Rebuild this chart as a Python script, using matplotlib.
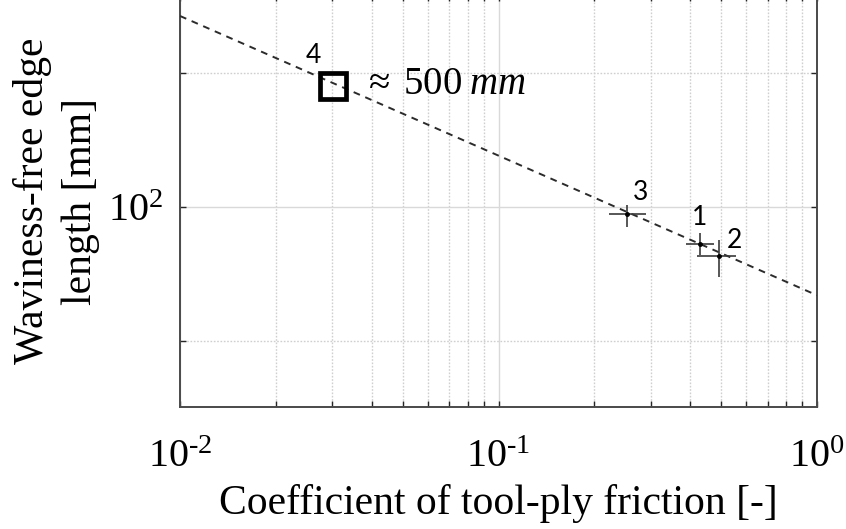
import numpy as np
import matplotlib.pyplot as plt
from matplotlib.ticker import FixedLocator, NullFormatter

plt.rcParams['font.family'] = ['Liberation Serif', 'DejaVu Serif']
plt.rcParams['mathtext.fontset'] = 'custom'
plt.rcParams['mathtext.rm'] = 'Liberation Serif'
plt.rcParams['mathtext.it'] = 'Liberation Serif:italic'

# measured friction coefficients and waviness-free edge lengths (cases 1-3)
case_ids = ['1', '2', '3']
friction = [0.4295, 0.493, 0.2535]
friction_lo = [0.388, 0.420, 0.2228]
friction_hi = [0.475, 0.557, 0.291]
edge_len = [82.6, 77.6, 96.4]
edge_lo = [78.0, 69.6, 90.2]
edge_hi = [87.4, 84.3, 101.0]

# extrapolated case 4
friction_4 = 0.0302
edge_4 = 187.0

# power-law fit  L = a * mu^b
fit_a = 63.3
fit_b = -0.314

mu = np.logspace(-2, 0, 200)
fit = fit_a * mu ** fit_b

fig = plt.figure(figsize=(8.46, 5.29), dpi=100)
ax = fig.add_axes([0.2128, 0.2306, 0.7530, 0.7788])
ax.set_xscale('log')
ax.set_yscale('log')

ax.plot(mu, fit, '--', color='#2b2b2b', lw=1.4, dashes=(3.5, 3), zorder=3)

fx = np.array(friction)
fy = np.array(edge_len)
xerr = [fx - np.array(friction_lo), np.array(friction_hi) - fx]
yerr = [fy - np.array(edge_lo), np.array(edge_hi) - fy]
ax.errorbar(fx, fy, xerr=xerr, yerr=yerr, fmt='.', color='#3a3a3a',
            ecolor='#3a3a3a', elinewidth=1.2, capsize=0, markersize=5,
            markerfacecolor='black', markeredgecolor='black', zorder=4)

ax.plot([friction_4], [edge_4], 's', markersize=19, markerfacecolor='none',
        markeredgecolor='black', markeredgewidth=3.4, zorder=5)

label_offsets = {'1': (-0.7, 18.7), '2': (10.8, 10.8), '3': (9.4, 15.8)}
for cid, x, y in zip(case_ids, friction, edge_len):
    ax.annotate(cid, (x, y), xytext=label_offsets[cid], textcoords='offset points',
                ha='center', va='center', fontsize=19, family=['Lato', 'DejaVu Sans'])
ax.annotate('4', (friction_4, edge_4), xytext=(-14.4, 22.3), textcoords='offset points',
            ha='center', va='center', fontsize=19, family=['Lato', 'DejaVu Sans'])
ax.annotate(r'$\approx\;500\;\mathit{mm}$', (friction_4, edge_4), xytext=(21.5, 1),
            textcoords='offset points', ha='left', va='center', fontsize=28)

ax.set_xlim(1e-2, 1e0)
ax.set_ylim(35.5, 299.6)

ax.set_xticks([1e-2, 1e-1, 1e0])
ax.set_xticklabels([r'$10^{\text{-}2}$', r'$10^{\text{-}1}$', r'$10^{0}$'])
ax.set_yticks([100])
ax.set_yticklabels([r'$10^{2}$'])
ax.yaxis.set_minor_locator(FixedLocator([50, 200]))
ax.yaxis.set_minor_formatter(NullFormatter())

ax.tick_params(which='both', direction='in', top=True, right=True,
               length=4.5, width=1.0, color='#262626', labelsize=29)
ax.tick_params(axis='x', pad=23)
ax.tick_params(axis='y', pad=12)

ax.grid(True, which='major', color='#d9d9d9', lw=1.0, ls='-')
ax.grid(True, which='minor', color='#cfcfcf', lw=1.0, ls=(0, (1.2, 1.2)))
ax.set_axisbelow(True)

for s in ax.spines.values():
    s.set_color('#4a4a4a')
    s.set_linewidth(1.4)

ax.set_xlabel('Coefficient of tool-ply friction [-]', fontsize=30, labelpad=6)
ax.set_ylabel('Waviness-free edge\nlength [mm]', fontsize=30, labelpad=6,
              linespacing=1.3)

fig.savefig('out.png', dpi=100)
